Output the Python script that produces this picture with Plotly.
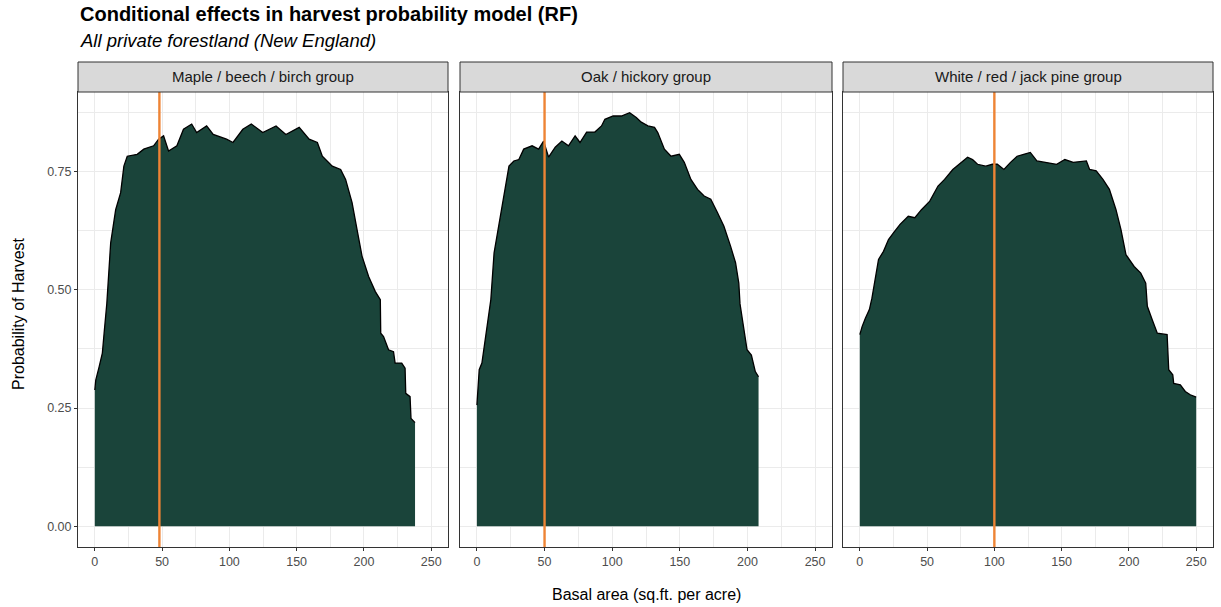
import plotly.graph_objects as go

# ---------------- data ----------------
groups = ["Maple / beech / birch group", "Oak / hickory group", "White / red / jack pine group"]

maple_x = [0, 0.7, 3.2, 5.6, 6.9, 8.9, 11.8, 15.5, 19.2, 21.6, 24.1, 31.5, 36.4, 43.7, 47.4,
           51.1, 54.8, 61, 65.9, 72, 75.7, 83.1, 88, 97.9, 102.7, 110, 116.3, 124.8, 134.7, 142,
           151.9, 159.3, 165.4, 169.1, 176.5, 182.7, 186.4, 191.2, 194.9, 198.6, 203.5, 208.5,
           212.2, 212.5, 214.6, 218.3, 222, 223.2, 228.1, 230.6, 231.1, 234.3, 235, 238]
maple_y = [0.288, 0.309, 0.337, 0.366, 0.408, 0.47, 0.599, 0.669, 0.705, 0.761, 0.782, 0.786,
           0.797, 0.804, 0.818, 0.825, 0.793, 0.804, 0.839, 0.85, 0.832, 0.846, 0.828, 0.818,
           0.811, 0.839, 0.85, 0.832, 0.846, 0.828, 0.843, 0.818, 0.811, 0.782, 0.761, 0.754,
           0.733, 0.684, 0.627, 0.571, 0.528, 0.496, 0.479, 0.408, 0.401, 0.373, 0.369, 0.345,
           0.345, 0.334, 0.281, 0.274, 0.228, 0.219]

oak_x = [0, 1.7, 3.7, 6.6, 10.3, 12.7, 16.3, 20, 23.7, 27.3, 31, 34.6, 40.8, 45.6, 49.3, 53,
         57.9, 62.8, 67.7, 72.6, 76.2, 81.1, 87.2, 92.1, 94.6, 100.7, 106.8, 112.9, 117.8, 121.5,
         126.4, 131.3, 133.7, 138.6, 143.5, 149.6, 153.3, 158.2, 163.1, 168, 172.9, 177.8, 182.6,
         187.5, 191.2, 193.6, 194.5, 196.7, 199.7, 202.9, 205.8, 208.2]
oak_y = [0.256, 0.331, 0.345, 0.408, 0.479, 0.578, 0.641, 0.698, 0.761, 0.772, 0.775, 0.797,
         0.804, 0.797, 0.814, 0.78, 0.801, 0.814, 0.804, 0.825, 0.811, 0.833, 0.833, 0.846, 0.86,
         0.867, 0.867, 0.874, 0.864, 0.854, 0.846, 0.843, 0.832, 0.797, 0.782, 0.786, 0.769,
         0.733, 0.712, 0.698, 0.691, 0.663, 0.634, 0.592, 0.557, 0.514, 0.47, 0.429, 0.373,
         0.362, 0.327, 0.316]

pine_x = [0, 1.7, 4.2, 7.1, 9, 11.5, 13.9, 17.6, 21.3, 25, 29.9, 36, 40.9, 45.8, 52, 58.1, 63,
          69.1, 75.2, 80.1, 83.8, 87.5, 93.6, 98.5, 102.2, 107.1, 112, 116.9, 121.8, 126.7,
          131.6, 137.7, 146.3, 152.4, 158.6, 168.4, 170.8, 175.7, 180.7, 185.5, 190.4, 194.1,
          197.8, 203.9, 208.8, 212.5, 213.7, 217.4, 221.1, 228.4, 229.6, 232.6, 233.3, 238.2,
          241.9, 245.6, 250]
pine_y = [0.405, 0.422, 0.44, 0.458, 0.482, 0.528, 0.564, 0.581, 0.606, 0.62, 0.638, 0.655,
          0.652, 0.669, 0.687, 0.719, 0.733, 0.754, 0.769, 0.78, 0.775, 0.765, 0.761, 0.765,
          0.765, 0.754, 0.769, 0.782, 0.786, 0.79, 0.772, 0.769, 0.765, 0.775, 0.769, 0.772,
          0.754, 0.751, 0.733, 0.712, 0.669, 0.627, 0.574, 0.549, 0.535, 0.514, 0.465, 0.436,
          0.408, 0.405, 0.331, 0.32, 0.302, 0.299, 0.285, 0.278, 0.273]

median_ba = [48, 50, 100]

x_ticks = [0, 50, 100, 150, 200, 250]
y_ticks = [0.0, 0.25, 0.5, 0.75]
y_tick_labels = ["0.00", "0.25", "0.50", "0.75"]

title = "Conditional effects in harvest probability model (RF)"
subtitle = "All private forestland (New England)"
x_title = "Basal area (sq.ft. per acre)"
y_title = "Probability of Harvest"

# ---------------- figure ----------------
FONT = "Liberation Sans, Arial, sans-serif"
FILL = "#1A443A"
ORANGE = "#EE8435"
GRID = "#EBEBEB"
BORDER = "#333333"

W, H = 1221, 607
ML, MR, MT, MB = 78, 8, 92, 60
PW = W - ML - MR
PH = H - MT - MB

domains = [[0, (448 - ML) / PW], [(460 - ML) / PW, (832 - ML) / PW], [(843 - ML) / PW, 1]]
series = [(maple_x, maple_y), (oak_x, oak_y), (pine_x, pine_y)]

fig = go.Figure()
shapes = []
annotations = []
strip_h = 30 / PH

for i, (g, (xs, ys)) in enumerate(zip(groups, series)):
    sfx = "" if i == 0 else str(i + 1)
    fig.add_trace(go.Scatter(
        x=xs, y=ys, mode="lines", fill="tozeroy", fillcolor=FILL,
        line=dict(color="black", width=1.3), xaxis="x" + sfx, yaxis="y" + sfx,
        showlegend=False, hoverinfo="x+y"))
    xa = dict(domain=domains[i], range=[-12.5, 262.5], tickvals=x_ticks,
              showgrid=True, gridcolor=GRID, gridwidth=1,
              minor=dict(showgrid=True, dtick=25, tick0=0, gridcolor=GRID, gridwidth=0.6),
              zeroline=False, showline=True, mirror=True, linecolor=BORDER, linewidth=1,
              ticks="outside", ticklen=3, tickcolor=BORDER, tickwidth=1,
              tickfont=dict(family=FONT, size=12.5, color="#4D4D4D"), anchor="y" + sfx)
    ya = dict(domain=[0, 1], range=[-0.0437, 0.9177], tickvals=y_ticks,
              ticktext=y_tick_labels if i == 0 else ["", "", "", ""],
              showgrid=True, gridcolor=GRID, gridwidth=1,
              minor=dict(showgrid=True, dtick=0.125, tick0=0, gridcolor=GRID, gridwidth=0.6),
              zeroline=False, showline=True, mirror=True, linecolor=BORDER, linewidth=1,
              ticks="outside" if i == 0 else "", ticklen=3, tickcolor=BORDER, tickwidth=1,
              tickfont=dict(family=FONT, size=12.5, color="#4D4D4D"), anchor="x" + sfx)
    fig.update_layout(**{"xaxis" + sfx: xa, "yaxis" + sfx: ya})

    # median vertical line
    shapes.append(dict(type="line", xref="x" + sfx, yref="y" + sfx + " domain",
                       x0=median_ba[i], x1=median_ba[i], y0=0, y1=1,
                       line=dict(color=ORANGE, width=2.4), layer="above"))
    # strip
    shapes.append(dict(type="rect", xref="x" + sfx + " domain", yref="paper",
                       x0=0, x1=1, y0=1, y1=1 + strip_h,
                       fillcolor="#D9D9D9", line=dict(color=BORDER, width=1)))
    annotations.append(dict(text=g, xref="x" + sfx + " domain", yref="paper",
                            x=0.5, y=1 + strip_h / 2, showarrow=False,
                            xanchor="center", yanchor="middle",
                            font=dict(family=FONT, size=15, color="#1A1A1A")))

annotations += [
    dict(text="<b>" + title + "</b>", xref="paper", yref="paper", x=0, y=(H - MB - 14) / PH,
         xanchor="left", yanchor="middle", showarrow=False,
         font=dict(family=FONT, size=20, color="black")),
    dict(text="<i>" + subtitle + "</i>", xref="paper", yref="paper", x=0, y=(H - MB - 41) / PH,
         xanchor="left", yanchor="middle", showarrow=False,
         font=dict(family=FONT, size=18.5, color="black")),
    dict(text=x_title, xref="paper", yref="paper", x=(646.5 - ML) / PW, y=(H - MB - 594) / PH,
         xanchor="center", yanchor="middle", showarrow=False,
         font=dict(family=FONT, size=16, color="black")),
    dict(text=y_title, xref="paper", yref="paper", x=(18 - ML) / PW, y=(H - MB - 314) / PH,
         xanchor="center", yanchor="middle", showarrow=False, textangle=-90,
         font=dict(family=FONT, size=16, color="black")),
]

fig.update_layout(width=W, height=H, margin=dict(l=ML, r=MR, t=MT, b=MB),
                  paper_bgcolor="white", plot_bgcolor="white",
                  shapes=shapes, annotations=annotations, showlegend=False)

fig.write_html("out.html", config={"displayModeBar": False},
               post_script="document.body.style.margin='0px';document.body.style.overflow='hidden';")
